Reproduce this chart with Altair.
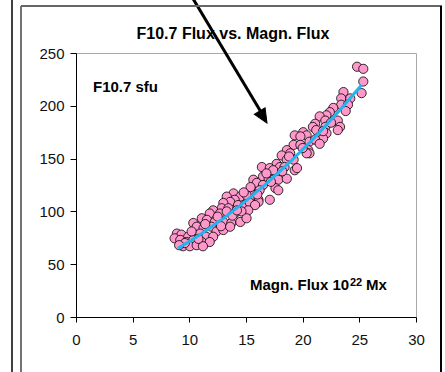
import altair as alt
import pandas as pd

# Scatter: magnetic flux (1e22 Mx) vs F10.7 (sfu)
flux = [24.8, 25.35, 25.35, 25.2, 23.6, 23.4, 24.2, 23.4, 24.0, 22.7, 22.4, 22.1, 21.5, 22.0, 23.1, 23.3, 23.1,
        21.1, 20.9, 21.2, 22.0, 22.1, 21.5, 21.8, 20.05, 20.35, 19.3, 19.8, 20.6, 21.1, 21.5, 19.2, 19.8, 18.6,
        20.5, 20.6,
        20.35, 18.15, 18.9, 18.6, 19.2, 17.7, 18.0, 18.4, 19.3, 19.5, 16.4, 17.1, 17.4, 16.5, 17.0, 17.4, 17.85,
        18.6, 15.65, 15.95, 16.5, 16.2, 17.6, 17.85, 15.35, 15.05, 15.65, 16.1, 17.1, 13.9, 14.5, 14.0, 13.3,
        13.6, 13.0, 14.3, 14.9, 15.35, 16.1, 12.85, 13.45,
        15.05, 15.8, 15.2, 12.1, 11.8, 12.7, 13.3, 14.0, 14.6, 11.1, 11.55, 12.25, 13.0, 13.7, 14.5, 15.05,
        10.35, 10.65, 11.25, 11.95, 12.4, 13.0, 13.6, 8.9, 9.3, 9.9, 10.5, 10.95, 11.5, 12.1, 8.7, 9.2, 9.75,
        10.35, 11.1, 11.8, 9.45, 10.05, 10.65, 11.2,
        17.2, 16.8, 18.2, 15.4, 14.8, 12.5, 13.8, 9.6, 10.2, 11.4, 12.8, 18.8, 20.0, 21.8, 22.5, 23.8, 16.0,
        14.2, 10.8, 9.1]
f107 = [237, 235, 223, 212, 213, 207, 207, 201, 201, 198, 194, 191, 190, 186, 186, 180, 177,
        183, 180, 177, 180, 174, 171, 169, 175, 172, 172, 171, 166, 168, 164, 163, 163, 158,
        158, 155,
        155, 153, 155, 149, 149, 145, 142, 142, 139, 141, 142, 141, 139, 133, 131, 130, 130,
        131, 130, 127, 125, 120, 122, 120, 119, 114, 112, 111, 111, 117, 114, 111, 114,
        109, 108, 106, 106, 108, 109, 103, 103,
        115.5, 106, 101, 101, 98, 98, 100, 98, 100, 93.5, 92, 90, 90, 89, 90, 93.5,
        89, 85.5, 84, 85.5, 81, 82.4, 85.5, 79, 78, 76, 78, 79, 76, 76, 74.5, 73, 71,
        73, 71, 71, 67, 67, 68, 67,
        128, 136, 138, 123, 118, 95, 96, 70, 81, 88, 86, 152, 160, 176, 184, 195, 116,
        101, 74, 68]

# Trend line
fit_x = [9, 11, 13, 15, 17, 19, 21, 23, 25.2]
fit_y = [65, 78.4, 93.4, 110, 128.2, 148, 169.4, 192.4, 219.6]

# Axis ticks
x_ticks = [0, 5, 10, 15, 20, 25, 30]
y_ticks = [0, 50, 100, 150, 200, 250]

FONT = "Liberation Sans"

pts = pd.DataFrame({"flux": flux, "f107": f107})
fit = pd.DataFrame({"flux": fit_x, "f107": fit_y})
one = pd.DataFrame({"k": [0]})

xs = alt.Scale(domain=[0, 30], nice=False, zero=False)
ys = alt.Scale(domain=[0, 250], nice=False, zero=False)

xaxis = alt.Axis(values=x_ticks, title=None, grid=False, tickSize=5, tickColor="black",
                 domainColor="black", labelFontSize=15, labelFont=FONT, labelColor="#111",
                 labelPadding=10, labelFlush=False, labelOverlap=False)
yaxis = alt.Axis(values=y_ticks, title=None, grid=False, tickSize=6, tickColor="black",
                 domainColor="black", labelFontSize=15, labelFont=FONT, labelColor="#111",
                 labelPadding=6, labelFlush=False, labelOverlap=False)

points = alt.Chart(pts).mark_point(
    shape="circle", filled=True, fill="#FF99CC", stroke="black", strokeWidth=0.8,
    size=85, opacity=1
).encode(
    x=alt.X("flux:Q", scale=xs, axis=xaxis),
    y=alt.Y("f107:Q", scale=ys, axis=yaxis),
)

line = alt.Chart(fit).mark_line(color="#22B4EE", strokeWidth=3).encode(
    x=alt.X("flux:Q", scale=xs),
    y=alt.Y("f107:Q", scale=ys),
)

def txt(text, x, y, size, align="left"):
    return alt.Chart(one).mark_text(
        text=text, font=FONT, fontSize=size, fontWeight="bold", align=align,
        baseline="alphabetic", color="black"
    ).encode(x=alt.value(x), y=alt.value(y))

title = txt("F10.7 Flux vs. Magn. Flux", 157, -14, 16, "center")
ylab = txt("F10.7 sfu", 17, 39, 15)
xlab1 = txt("Magn. Flux 10", 174, 237, 15)
xlab2 = txt("22", 274, 233, 11)
xlab3 = txt("Mx", 290, 237, 15)

def rule(x, x2, y, y2, color, w):
    return alt.Chart(one).mark_rule(color=color, strokeWidth=w).encode(
        x=alt.value(x), x2=alt.value(x2), y=alt.value(y), y2=alt.value(y2))

frame = [
    rule(-64, -64, -60, 330, "black", 1.5),
    rule(-55, -55, -47, 330, "#444", 1.5),
    rule(-55, 366, -47, -47, "#666", 2),
    rule(365, 365, -47, 330, "black", 2),
]

arrow_line = rule(116, 185, -56, 59, "black", 3)
arrow_head = alt.Chart(one).mark_point(
    shape="M0,0 L-0.45,-1 L0.45,-1 Z", filled=True, fill="black", stroke="black",
    strokeWidth=1, size=784, angle=328.6, opacity=1
).encode(x=alt.value(191), y=alt.value(70))

chart = alt.layer(
    points, line, title, ylab, xlab1, xlab2, xlab3, arrow_line, arrow_head, *frame
).properties(
    width=340, height=264,
    autosize=alt.AutoSizeParams(type="none"),
    padding={"left": 76, "top": 53, "right": 29, "bottom": 55},
    background="white",
).configure_view(stroke="#A8A8A8", strokeWidth=1, clip=False)

chart.save("out.html", embed_options={"renderer": "svg", "actions": False})
